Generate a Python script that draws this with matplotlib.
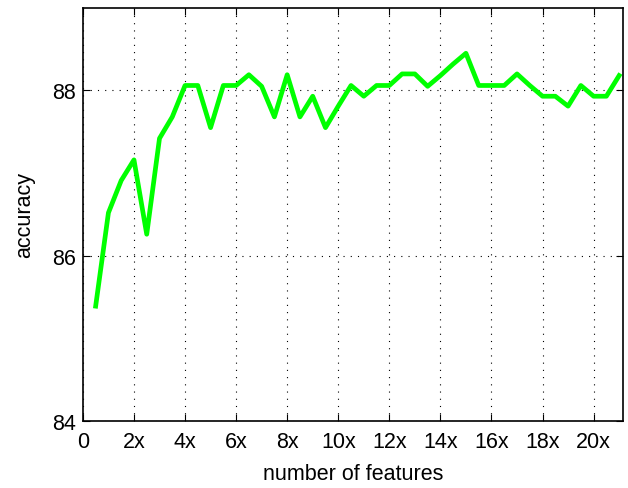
import matplotlib
matplotlib.use("Agg")
import matplotlib.pyplot as plt

# accuracy vs number of features
n_features = [0.5, 1, 1.5, 2, 2.5, 3, 3.5, 4, 4.5, 5, 5.5, 6, 6.5, 7, 7.5, 8, 8.5, 9, 9.5, 10,
              10.5, 11, 11.5, 12, 12.5, 13, 13.5, 14, 14.5, 15, 15.5, 16, 16.5, 17, 17.5, 18,
              18.5, 19, 19.5, 20, 20.5, 21]
accuracy = [85.39, 86.52, 86.91, 87.16, 86.26, 87.42, 87.68, 88.06, 88.06, 87.55, 88.06, 88.06,
            88.19, 88.05, 87.68, 88.19, 87.68, 87.93, 87.55, 87.81, 88.06, 87.93, 88.06, 88.06,
            88.2, 88.2, 88.05, 88.18, 88.32, 88.45, 88.06, 88.06, 88.06, 88.2, 88.06, 87.93,
            87.93, 87.81, 88.06, 87.93, 87.93, 88.18]

xtick_pos = [0, 2, 4, 6, 8, 10, 12, 14, 16, 18, 20]
xtick_labels = ['0', '2x', '4x', '6x', '8x', '10x', '12x', '14x', '16x', '18x', '20x']
ytick_pos = [84, 86, 88]

plt.rcParams['font.family'] = ['Liberation Sans', 'DejaVu Sans']

fig = plt.figure(figsize=(6.28, 4.89), dpi=100)
ax = fig.add_axes([0.132, 0.137, 0.86, 0.845])

ax.plot(n_features, accuracy, color='#00ff00', linewidth=3.4)

ax.set_xlim(0, 21.15)
ax.set_ylim(84, 89)
ax.set_xticks(xtick_pos)
ax.set_xticklabels(xtick_labels)
ax.set_yticks(ytick_pos)

# sparse dotted grid like the original
ax.grid(True, color='black', linestyle=(0, (1, 5.5)), linewidth=0.8)
ax.tick_params(direction='in', top=True, right=True, labelsize=15.5, length=5, width=0.8)
ax.tick_params(axis='x', pad=7)
ax.tick_params(axis='y', pad=5)
for s in ax.spines.values():
    s.set_linewidth(1.2)

ax.set_xlabel('number of features', fontsize=15.5, labelpad=8)
ax.set_ylabel('accuracy', fontsize=15.5, labelpad=12)

fig.savefig('out.png', dpi=100)
